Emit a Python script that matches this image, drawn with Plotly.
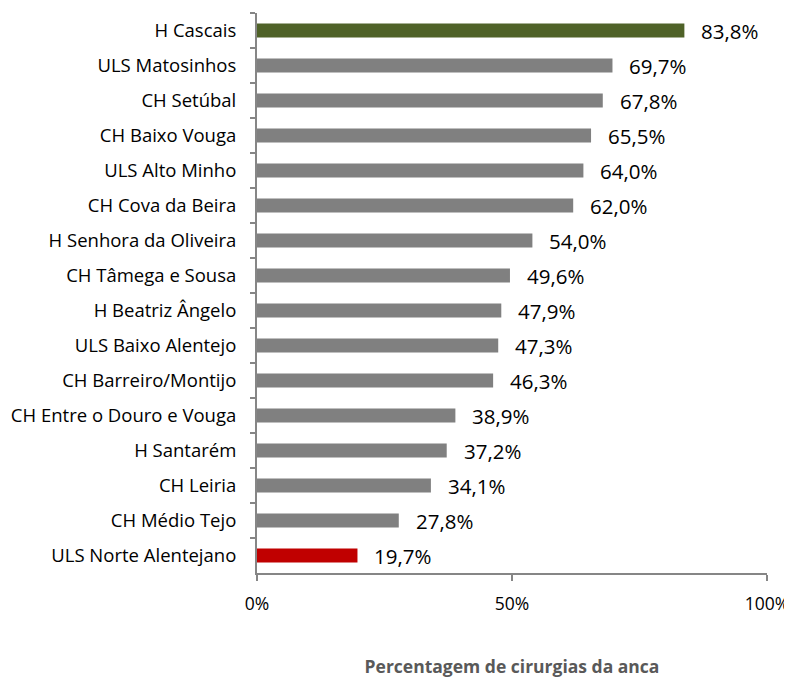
import plotly.graph_objects as go

# hospitals, top to bottom as in the chart
hospitais = [
    "H Cascais", "ULS Matosinhos", "CH Setúbal", "CH Baixo Vouga", "ULS Alto Minho",
    "CH Cova da Beira", "H Senhora da Oliveira", "CH Tâmega e Sousa", "H Beatriz Ângelo",
    "ULS Baixo Alentejo", "CH Barreiro/Montijo", "CH Entre o Douro e Vouga", "H Santarém",
    "CH Leiria", "CH Médio Tejo", "ULS Norte Alentejano",
]
percentagem = [83.8, 69.7, 67.8, 65.5, 64.0, 62.0, 54.0, 49.6, 47.9, 47.3, 46.3, 38.9, 37.2, 34.1, 27.8, 19.7]
tick_vals = [0, 50, 100]
tick_text = ["0%", "50%", "100%"]

# best in green, worst in red, the rest gray
cores = ["#808080"] * len(hospitais)
cores[0] = "#4F6228"
cores[-1] = "#C00000"

FONT = "Open Sans"

fig = go.Figure()
fig.add_trace(go.Bar(
    x=percentagem,
    y=hospitais,
    orientation="h",
    marker=dict(color=cores, line=dict(width=0)),
    width=0.4,
    hoverinfo="skip",
))

# value labels, decimal comma
for h, v in zip(hospitais, percentagem):
    fig.add_annotation(
        x=v, y=h, text=f"{v:.1f}%".replace(".", ","),
        showarrow=False, xanchor="left", yanchor="middle",
        xshift=15, font=dict(family=FONT, size=20.5, color="#000000"),
    )

# page body adds an 8px margin, so the figure is a bit smaller to fit the window
fig.update_layout(
    width=784, height=672,
    paper_bgcolor="white", plot_bgcolor="white",
    margin=dict(l=249, r=25, t=5, b=107),
    showlegend=False,
    font=dict(family=FONT, size=16, color="#000000"),
)

fig.update_yaxes(
    type="category",
    categoryorder="array", categoryarray=hospitais,
    autorange="reversed",
    showline=True, linecolor="#868686", linewidth=2,
    ticks="outside", ticklen=5, tickcolor="#868686", tickwidth=2,
    tickson="boundaries",
    ticklabelstandoff=15,
    tickfont=dict(size=18.5),
    showgrid=False, zeroline=False,
    automargin=False,
)

fig.update_xaxes(
    range=[0, 100],
    tickvals=tick_vals, ticktext=tick_text,
    showline=True, linecolor="#868686", linewidth=2,
    ticks="outside", ticklen=6, tickcolor="#868686", tickwidth=2,
    ticklabelstandoff=8,
    tickfont=dict(size=17.5),
    showgrid=False, zeroline=False,
    automargin=False,
    title=dict(text="<b>Percentagem de cirurgias da anca</b>",
               font=dict(family=FONT, size=17.5, color="#595959"), standoff=47),
)

fig.write_html("out.html")
